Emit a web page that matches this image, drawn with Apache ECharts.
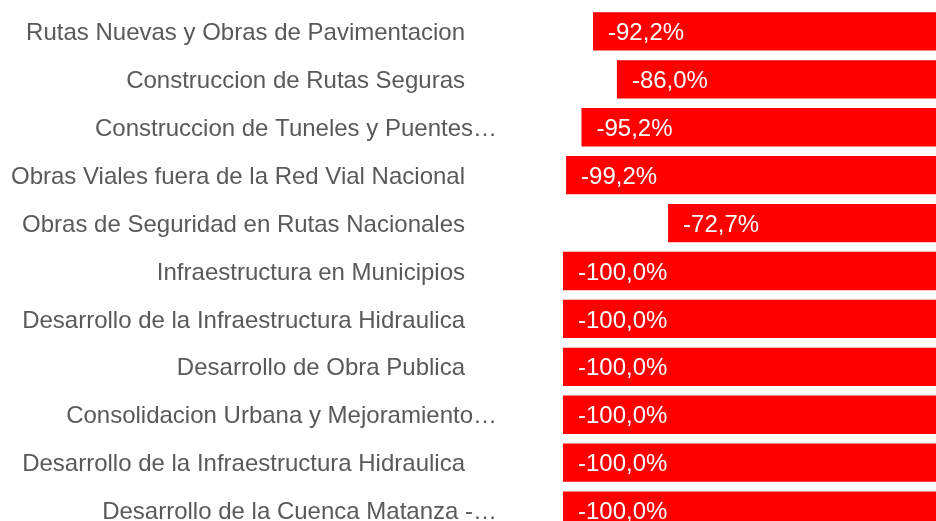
<!DOCTYPE html>
<html>
<head>
<meta charset="utf-8">
<script src="https://cdn.jsdelivr.net/npm/echarts@6/dist/echarts.min.js"></script>
<style>
html,body{margin:0;padding:0;background:#fff;}
#chart{width:936px;height:521px;}
</style>
</head>
<body>
<div id="chart"></div>
<script>
var categories = [
    "Rutas Nuevas y Obras de Pavimentacion",
    "Construccion de Rutas Seguras",
    "Construccion de Tuneles y Puentes\u2026",
    "Obras Viales fuera de la Red Vial Nacional",
    "Obras de Seguridad en Rutas Nacionales",
    "Infraestructura en Municipios",
    "Desarrollo de la Infraestructura Hidraulica",
    "Desarrollo de Obra Publica",
    "Consolidacion Urbana y Mejoramiento\u2026",
    "Desarrollo de la Infraestructura Hidraulica",
    "Desarrollo de la Cuenca Matanza -\u2026"
];
var values = [-92.2, -86.0, -95.2, -99.2, -72.7, -100.0, -100.0, -100.0, -100.0, -100.0, -100.0];

var font = 'Arial';
var myChart = echarts.init(document.getElementById("chart"));
myChart.setOption({
    animation: false,
    grid: {
        left: 563,
        width: 385,
        top: 7.5,
        height: 527,
        containLabel: false,
        outerBoundsMode: 'none'
    },
    xAxis: {
        type: 'value',
        min: -100,
        max: 0,
        show: false
    },
    yAxis: {
        type: 'category',
        data: categories,
        inverse: true,
        position: 'left',
        axisLine: {show: false, onZero: false},
        axisTick: {show: false},
        splitLine: {show: false},
        axisLabel: {
            margin: 66,
            fontFamily: font,
            fontSize: 24,
            color: '#595959',
            formatter: function (v) {
                if (v.indexOf('\u2026') >= 0) return '{e|' + v + '}';
                return '{n|' + v + '}';
            },
            rich: {
                n: {fontSize: 24, color: '#595959', fontFamily: font, padding: [4, 32, 0, 0]},
                e: {fontSize: 24, color: '#595959', fontFamily: font, padding: [4, 0, 0, 0]}
            }
        }
    },
    series: [
        {
            type: 'bar',
            data: values,
            barCategoryGap: '20%',
            itemStyle: {color: '#FF0000'},
            label: {
                show: true,
                position: 'insideLeft',
                distance: 15,
                offset: [0, 2],
                color: '#ffffff',
                fontFamily: font,
                fontSize: 24,
                formatter: function (p) {
                    return p.value.toFixed(1).replace('.', ',') + '%';
                }
            }
        }
    ]
});
</script>
</body>
</html>
